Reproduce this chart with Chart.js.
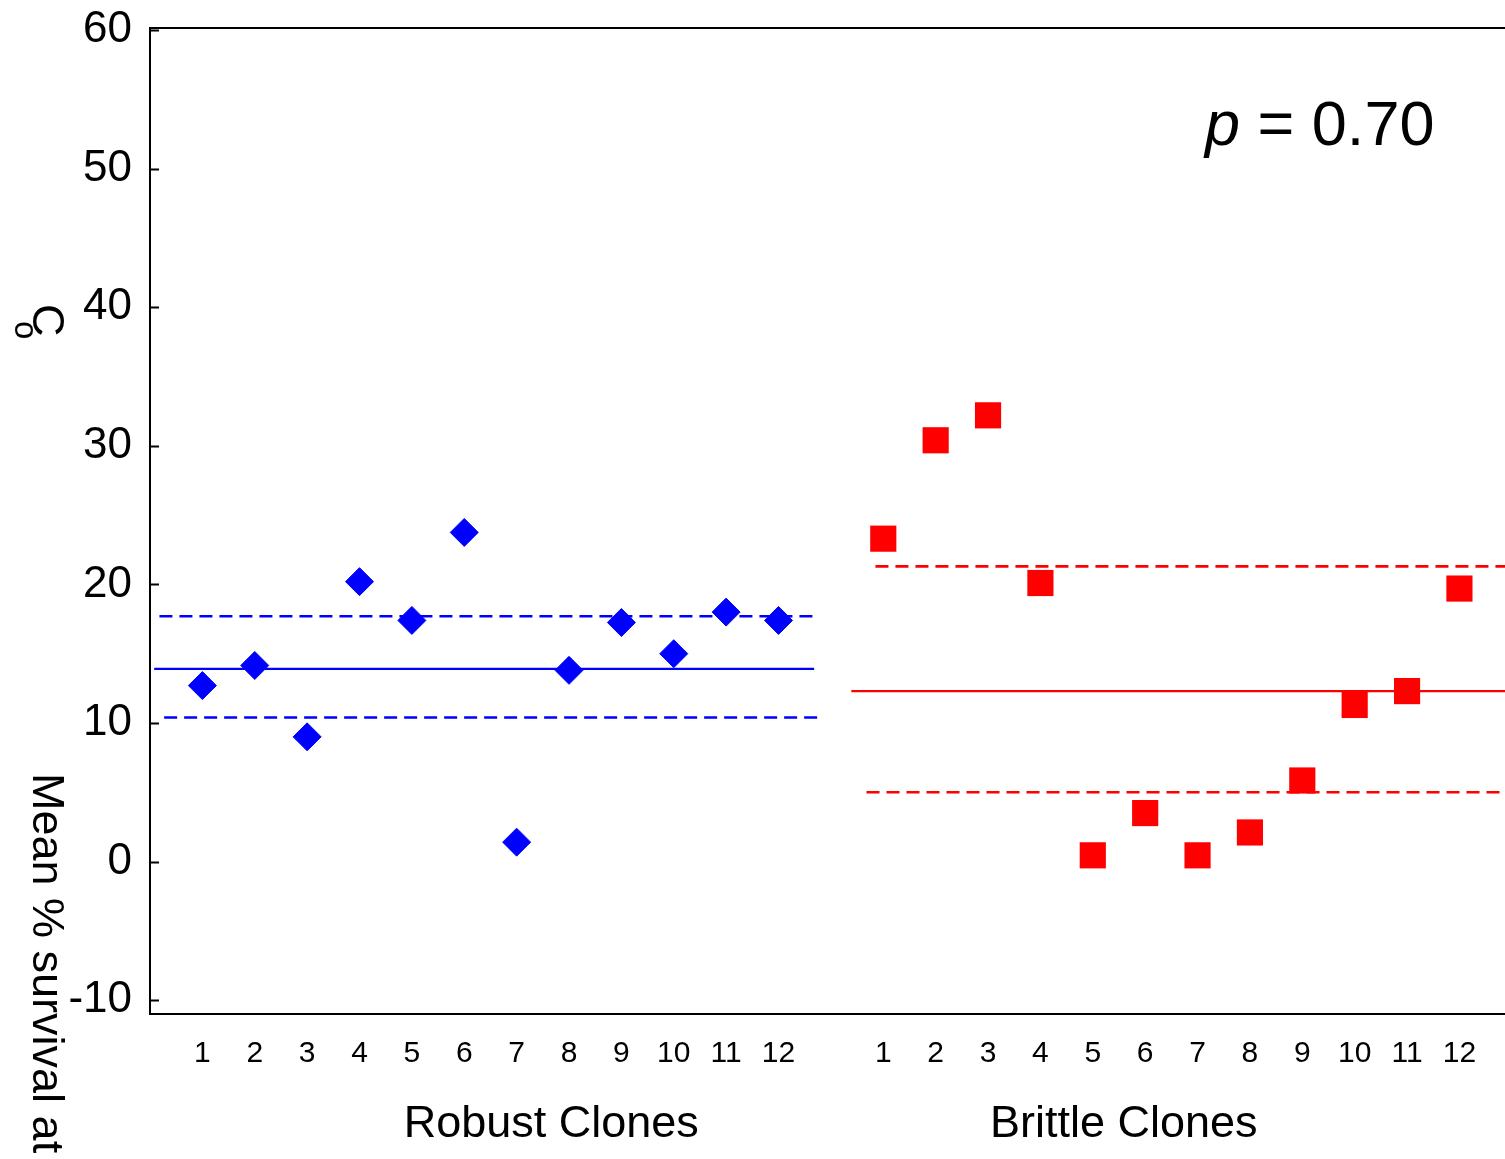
<!DOCTYPE html>
<html>
<head>
<meta charset="utf-8">
<script src="https://cdn.jsdelivr.net/npm/chart.js@4/dist/chart.umd.min.js"></script>
<style>
  html, body { margin: 0; padding: 0; background: #fff; overflow: hidden; }
  canvas { display: block; }
</style>
</head>
<body>
<canvas id="chart" width="1505" height="1159"></canvas>
<script>
// clone numbers shown under each group
const cloneLabels = ["1", "2", "3", "4", "5", "6", "7", "8", "9", "10", "11", "12"];
const robustX = [1, 2, 3, 4, 5, 6, 7, 8, 9, 10, 11, 12];
const brittleX = [14, 15, 16, 17, 18, 19, 20, 21, 22, 23, 24, 25];

// mean % survival per clone
const robustSurvival = [12.7, 14.15, 9.0, 20.2, 17.4, 23.75, 1.4, 13.8, 17.25, 15.0, 18.0, 17.4];
const brittleSurvival = [23.3, 30.4, 32.2, 20.1, 0.45, 3.5, 0.45, 2.1, 5.85, 11.3, 12.3, 19.7];

// group mean and the dashed band around it
const robustStats = [13.9, 17.7, 10.4];   // mean, upper, lower
const brittleStats = [12.3, 21.3, 5.0];
const robustSpan = [[0.08, 12.68], [0.18, 12.72], [0.27, 12.82]];
const brittleSpan = [[13.39, 25.9], [13.85, 25.9], [13.68, 25.9]];

const yTickValues = [-10, 0, 10, 20, 30, 40, 50, 60];
const groupTitles = ["Robust Clones", "Brittle Clones"];
const groupTitleAt = [7.66, 18.59];
const pValue = "0.70";

const FONT = "'Liberation Sans', Arial, sans-serif";
const BLUE = "#0000ff";
const RED = "#ff0000";

function pts(xs, ys) {
  return xs.map((x, i) => ({ x: x, y: ys[i] }));
}

function statLine(span, value, color, dashed) {
  return {
    data: [{ x: span[0], y: value }, { x: span[1], y: value }],
    showLine: true,
    borderColor: color,
    borderWidth: dashed ? 2.6 : 2.2,
    borderDash: dashed ? [13, 7] : [],
    pointRadius: 0,
    pointHoverRadius: 0
  };
}

const datasets = [
  {
    data: pts(robustX, robustSurvival),
    pointStyle: "rectRot",
    pointRadius: 14,
    pointBackgroundColor: BLUE,
    pointBorderColor: BLUE,
    pointBorderWidth: 1
  },
  {
    data: pts(brittleX, brittleSurvival),
    pointStyle: "rect",
    pointRadius: 18.5,
    pointBackgroundColor: RED,
    pointBorderColor: RED,
    pointBorderWidth: 0
  },
  statLine(robustSpan[0], robustStats[0], BLUE, false),
  statLine(robustSpan[1], robustStats[1], BLUE, true),
  statLine(robustSpan[2], robustStats[2], BLUE, true),
  statLine(brittleSpan[0], brittleStats[0], RED, false),
  statLine(brittleSpan[1], brittleStats[1], RED, true),
  statLine(brittleSpan[2], brittleStats[2], RED, true)
];

// frame top, inward ticks and the extra texts
const decorations = {
  id: "decorations",
  afterDraw(chart) {
    const ctx = chart.ctx;
    const area = chart.chartArea;
    const x = chart.scales.x;
    const y = chart.scales.y;
    ctx.save();

    ctx.strokeStyle = "#000";
    ctx.lineWidth = 2;
    ctx.beginPath();
    ctx.moveTo(area.left, area.top);
    ctx.lineTo(area.right + 2, area.top);
    yTickValues.forEach(v => {
      const py = Math.round(y.getPixelForValue(v)) + 0.5;
      ctx.moveTo(area.left, py);
      ctx.lineTo(area.left + 9, py);
    });
    ctx.stroke();

    ctx.fillStyle = "#000";
    ctx.textAlign = "center";
    ctx.textBaseline = "alphabetic";
    ctx.font = "45px " + FONT;
    groupTitles.forEach((t, i) => {
      ctx.fillText(t, x.getPixelForValue(groupTitleAt[i]), 1137);
    });

    // p value, italic p
    ctx.textAlign = "left";
    ctx.font = "italic 63px " + FONT;
    const pW = ctx.measureText("p").width;
    ctx.fillText("p", 1205, 145);
    ctx.font = "63px " + FONT;
    ctx.fillText(" = " + pValue, 1205 + pW, 145);

    // rotated y title
    ctx.font = "45px " + FONT;
    ctx.save();
    ctx.translate(33, 773);
    ctx.rotate(Math.PI / 2);
    ctx.fillText("Mean % survival at", 0, 0);
    ctx.restore();
    ctx.save();
    ctx.translate(33, 304);
    ctx.rotate(Math.PI / 2);
    ctx.fillText("C", 0, 0);
    ctx.restore();
    ctx.font = "33px " + FONT;
    ctx.save();
    ctx.translate(15, 321);
    ctx.rotate(Math.PI / 2);
    ctx.fillText("o", 0, 0);
    ctx.restore();

    ctx.restore();
  }
};

function noEdgePadding(scale) {
  scale.paddingTop = 0;
  scale.paddingBottom = 0;
  scale.paddingLeft = 0;
  scale.paddingRight = 0;
}

new Chart(document.getElementById("chart"), {
  type: "scatter",
  data: { datasets: datasets },
  options: {
    responsive: false,
    animation: false,
    events: [],
    layout: { autoPadding: false, padding: { top: 28, left: 0, right: 0, bottom: 0 } },
    plugins: {
      legend: { display: false },
      tooltip: { enabled: false }
    },
    scales: {
      x: {
        type: "linear",
        min: 0,
        max: 25.87,
        grid: { display: false, drawTicks: false },
        border: { display: true, color: "#000", width: 2 },
        afterBuildTicks(scale) {
          scale.ticks = robustX.concat(brittleX).map(v => ({ value: v }));
        },
        afterFit(scale) { scale.height = 145; noEdgePadding(scale); },
        ticks: {
          autoSkip: false,
          maxRotation: 0,
          padding: 22,
          color: "#000",
          font: { family: FONT, size: 30 },
          callback(value) {
            const i = robustX.indexOf(value);
            if (i >= 0) return cloneLabels[i];
            const j = brittleX.indexOf(value);
            return j >= 0 ? cloneLabels[j] : "";
          }
        }
      },
      y: {
        type: "linear",
        min: -11,
        max: 60.15,
        grid: { display: false, drawTicks: false },
        border: { display: true, color: "#000", width: 2 },
        afterBuildTicks(scale) {
          scale.ticks = yTickValues.map(v => ({ value: v }));
        },
        afterFit(scale) { scale.width = 150; noEdgePadding(scale); },
        ticks: {
          padding: 18,
          color: "#000",
          font: { family: FONT, size: 44 }
        }
      }
    }
  },
  plugins: [decorations]
});
</script>
</body>
</html>
